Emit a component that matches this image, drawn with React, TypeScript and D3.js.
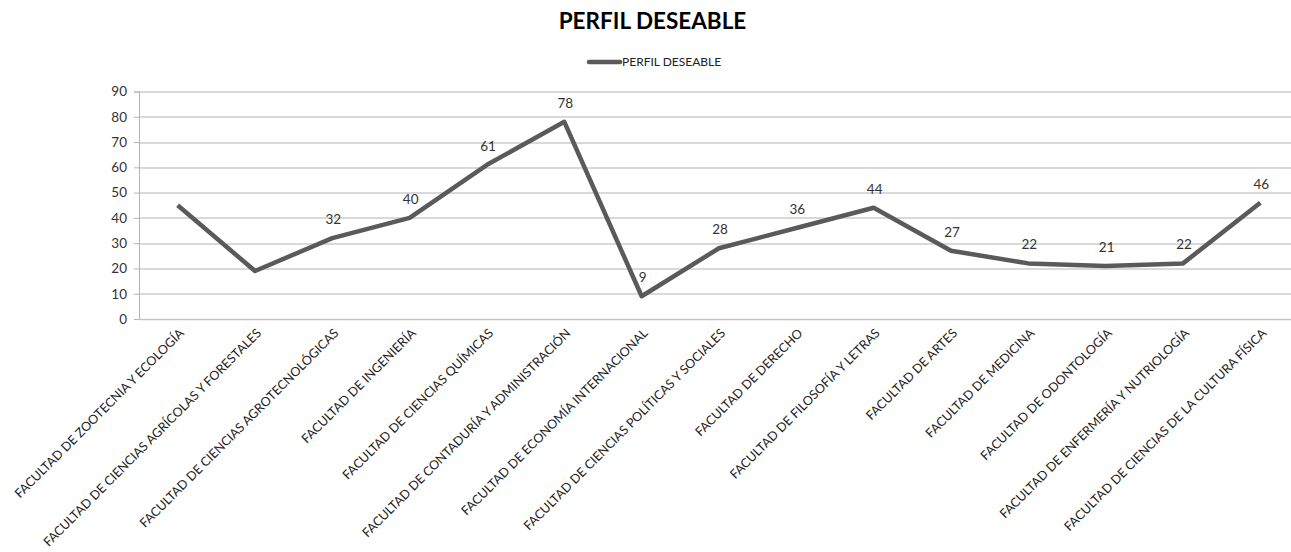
import React, { useEffect, useRef } from "react";
import * as d3 from "d3";

const categories = [
  "FACULTAD DE ZOOTECNIA Y ECOLOGÍA",
  "FACULTAD DE CIENCIAS AGRÍCOLAS Y FORESTALES",
  "FACULTAD DE CIENCIAS AGROTECNOLÓGICAS",
  "FACULTAD DE INGENIERÍA",
  "FACULTAD DE CIENCIAS QUÍMICAS",
  "FACULTAD DE CONTADURÍA Y ADMINISTRACIÓN",
  "FACULTAD DE ECONOMÍA INTERNACIONAL",
  "FACULTAD DE CIENCIAS POLÍTICAS Y SOCIALES",
  "FACULTAD DE DERECHO",
  "FACULTAD DE FILOSOFÍA Y LETRAS",
  "FACULTAD DE ARTES",
  "FACULTAD DE MEDICINA",
  "FACULTAD DE ODONTOLOGÍA",
  "FACULTAD DE ENFERMERÍA Y NUTRIOLOGÍA",
  "FACULTAD DE CIENCIAS DE LA CULTURA FÍSICA",
];

const values = [45, 19, 32, 40, 61, 78, 9, 28, 36, 44, 27, 22, 21, 22, 46];
// the first two points carry no label in the original
const showLabel = [false, false, true, true, true, true, true, true, true, true, true, true, true, true, true];
const yTicks = [0, 10, 20, 30, 40, 50, 60, 70, 80, 90];

const seriesName = "PERFIL DESEABLE";
const title = "PERFIL DESEABLE";

const W = 1291;
const H = 552;
const FONT = "Lato, 'Open Sans', sans-serif";

const App: React.FC = () => {
  const svgRef = useRef<SVGSVGElement>(null);

  useEffect(() => {
    if (!svgRef.current) return;
    // plot area runs past the right edge, like the original
    const margin = { top: 91.5, right: -8, bottom: 233, left: 139 };
    const width = W - margin.left - margin.right;
    const height = H - margin.top - margin.bottom;

    const svg = d3.select(svgRef.current);
    svg.selectAll("*").remove();
    svg.append("rect").attr("width", W).attr("height", H).attr("fill", "#fff");

    const g = svg
      .append("g")
      .attr("transform", `translate(${margin.left},${margin.top})`);

    const x = d3.scaleBand<string>().domain(categories).range([0, width]);
    const y = d3.scaleLinear().domain([0, 90]).range([height, 0]);
    const cx = (i: number) => (x(categories[i]) ?? 0) + x.bandwidth() / 2;

    // gridlines
    g.append("g")
      .selectAll("line")
      .data(yTicks.filter((t) => t > 0))
      .enter()
      .append("line")
      .attr("x1", 0)
      .attr("x2", width)
      .attr("y1", (d) => Math.round(y(d)) + 0.5)
      .attr("y2", (d) => Math.round(y(d)) + 0.5)
      .attr("stroke", "#b3b3b3")
      .attr("stroke-width", 1);

    // y axis
    const yAxis = g
      .append("g")
      .call(d3.axisLeft(y).tickValues(yTicks).tickSize(5).tickPadding(7));
    yAxis.select(".domain").attr("stroke", "#b3b3b3");
    yAxis.selectAll(".tick line").attr("stroke", "#b3b3b3");
    yAxis
      .selectAll(".tick text")
      .attr("fill", "#333")
      .style("font-family", FONT)
      .style("font-size", "13.5px");

    // x axis
    const xAxis = g
      .append("g")
      .attr("transform", `translate(0,${height})`)
      .call(d3.axisBottom(x).tickSize(0).tickPadding(0));
    xAxis.select(".domain").attr("stroke", "#c4c4c4").attr("stroke-width", 1.5);
    xAxis
      .selectAll<SVGTextElement, string>(".tick text")
      .attr("fill", "#222")
      .attr("text-anchor", "end")
      .attr("dy", 0)
      .attr("transform", "translate(7,15) rotate(-45)")
      .style("font-family", FONT)
      .style("font-size", "12.6px");

    // line
    const line = d3
      .line<number>()
      .x((_, i) => cx(i))
      .y((d) => y(d));

    g.append("path")
      .datum(values)
      .attr("d", line)
      .attr("fill", "none")
      .attr("stroke", "#5a5a5a")
      .attr("stroke-width", 4.5)
      .attr("stroke-linejoin", "round");

    // data labels
    const labelled = values
      .map((v, i) => ({ v, i }))
      .filter((d) => showLabel[d.i]);
    g.append("g")
      .selectAll("text")
      .data(labelled)
      .enter()
      .append("text")
      .attr("x", (d) => cx(d.i) + 1)
      .attr("y", (d) => y(d.v) - 14)
      .attr("text-anchor", "middle")
      .attr("fill", "#333")
      .style("font-family", FONT)
      .style("font-size", "13.5px")
      .text((d) => d.v);

    // title
    svg
      .append("text")
      .attr("x", W / 2 + 7)
      .attr("y", 29)
      .attr("text-anchor", "middle")
      .attr("fill", "#000")
      .style("font-family", FONT)
      .style("font-weight", "bold")
      .style("font-size", "22.5px")
      .text(title);

    // legend
    const legend = svg.append("g").attr("transform", "translate(589,62)");
    legend
      .append("line")
      .attr("x1", 0)
      .attr("x2", 31)
      .attr("stroke", "#5a5a5a")
      .attr("stroke-width", 4.5)
      .attr("stroke-linecap", "round");
    legend
      .append("text")
      .attr("x", 33)
      .attr("y", 4)
      .attr("fill", "#222")
      .style("font-family", FONT)
      .style("font-size", "12px")
      .text(seriesName);
  }, []);

  return (
    <svg
      ref={svgRef}
      width={W}
      height={H}
      style={{ position: "absolute", left: 0, top: 0, display: "block" }}
    />
  );
};

export default App;
